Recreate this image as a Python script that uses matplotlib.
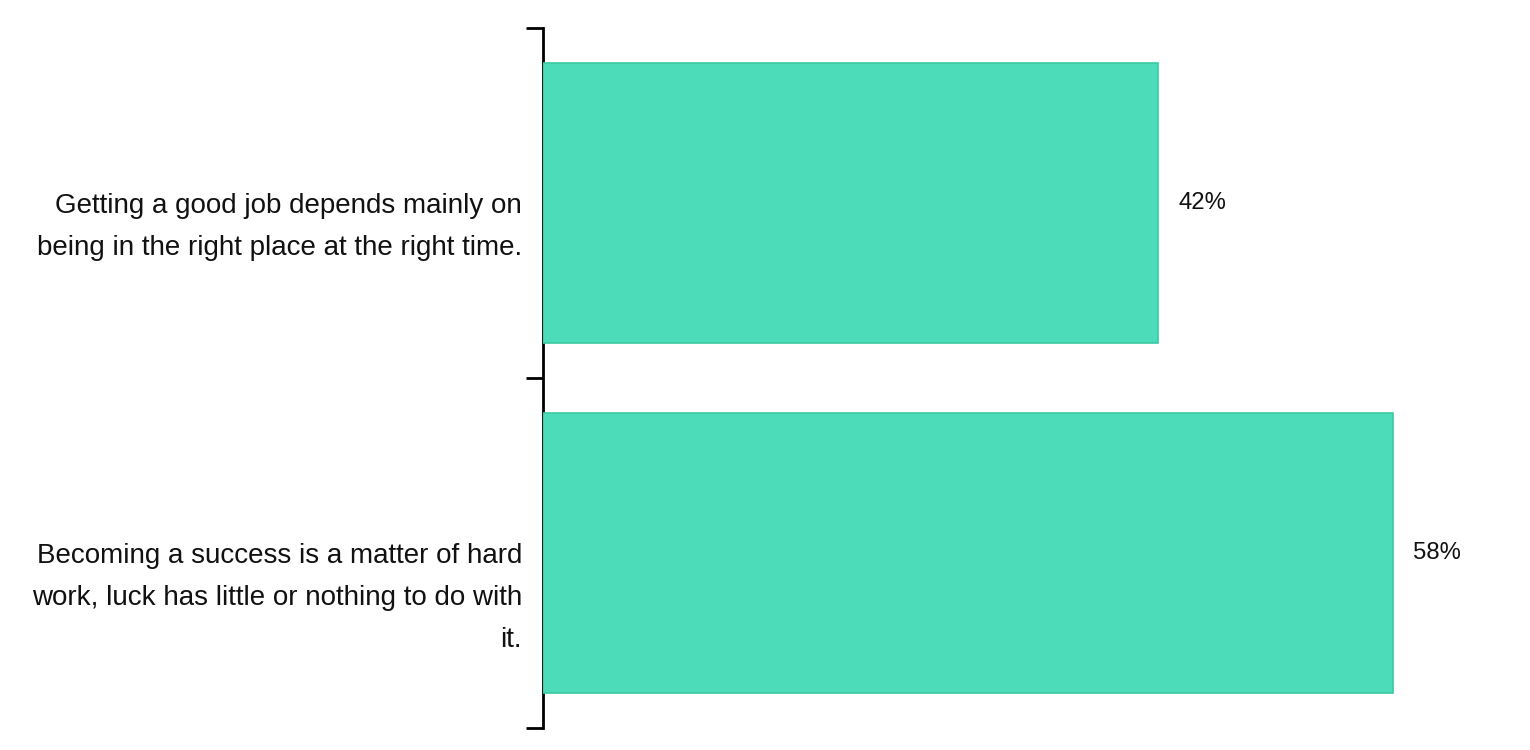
import matplotlib.pyplot as plt

categories = ['Getting a good job depends mainly on\nbeing in the right place at the right time.',
              'Becoming a success is a matter of hard\nwork, luck has little or nothing to do with\nit.']
values = [42, 58]
value_labels = ['42%', '58%']

plt.rcParams['font.family'] = ['Liberation Sans', 'DejaVu Sans']

fig = plt.figure(figsize=(15.3, 7.5), dpi=100)
ax = fig.add_axes([543 / 1530, 22 / 750, 977 / 1530, 700 / 750])

ypos = list(range(len(categories)))
ax.barh(ypos, values, height=0.8, color='#4ddcb9', edgecolor='#3cc9a3',
        linewidth=1.2, zorder=3)
for y, v, lab in zip(ypos, values, value_labels):
    ax.annotate(lab, xy=(v, y), xytext=(20, 0), textcoords='offset pixels',
                va='center', ha='left', fontsize=17.2, color='#111111')

# category labels: first line centred on the bar
line_px = 42
for y, cat in zip(ypos, categories):
    n = cat.count('\n')
    ax.annotate(cat, xy=(0, y), xycoords=('axes fraction', 'data'),
                xytext=(-21, -10 - n * line_px), textcoords='offset pixels',
                ha='right', va='baseline', fontsize=20, linespacing=1.806,
                color='#111111', annotation_clip=False)

ax.set_xlim(0, 66.7)
ax.set_ylim(len(categories) - 0.5, -0.5)

ax.set_yticks([-0.5, 0.5, 1.5])
ax.set_yticklabels([])
ax.tick_params(axis='y', which='major', length=12, width=2, color='black')

ax.xaxis.set_visible(False)
for s in ['top', 'right', 'bottom']:
    ax.spines[s].set_visible(False)
ax.spines['left'].set_linewidth(2)

fig.savefig('out.png', dpi=100)
